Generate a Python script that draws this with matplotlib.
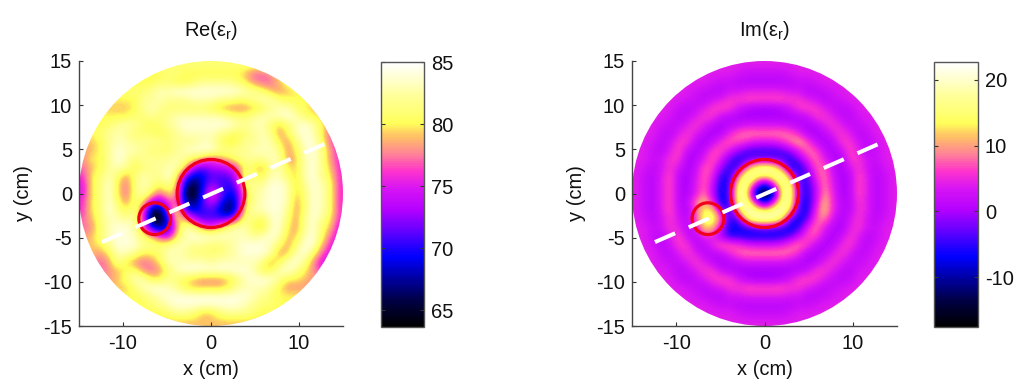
import numpy as np
import matplotlib
matplotlib.use("Agg")
import matplotlib.pyplot as plt
from matplotlib.colors import LinearSegmentedColormap
from matplotlib.patches import Circle

plt.rcParams['font.family'] = ['Liberation Sans', 'DejaVu Sans']
plt.rcParams['mathtext.fontset'] = 'custom'
plt.rcParams['mathtext.rm'] = 'Liberation Sans'
plt.rcParams['axes.unicode_minus'] = False

grid_x = list(range(-15, 16))
re_rows = [
[81]*31,
[80,80,80,80,80,80,80,80,80,80,81,81,80,80,80,80,80,80,80,79,77,77,78,80,80,80,80,80,80,80,80],
[80,80,80,80,80,80,80,80,80,81,81,80,80,81,82,82,82,82,81,80,78,77,77,79,81,81,81,81,81,81,81],
[80,80,80,80,80,81,81,81,82,83,83,84,84,84,84,84,84,84,84,83,82,81,79,78,79,80,80,80,80,80,80],
[80,80,80,80,80,80,80,82,82,83,82,82,82,83,83,83,82,82,81,81,82,83,83,81,80,80,80,80,80,80,80],
[80,80,80,79,79,79,80,82,83,82,81,81,81,81,81,80,79,78,78,78,79,80,82,83,83,81,80,79,79,79,79],
[80,80,80,80,80,80,81,81,82,81,82,83,83,83,83,83,83,82,81,81,82,83,83,83,84,83,81,80,79,78,78],
[80,80,80,81,82,83,82,81,80,81,82,83,84,84,84,84,84,84,83,82,83,83,81,79,81,83,84,83,80,78,78],
[80,80,81,82,83,82,81,81,81,80,81,82,83,83,83,83,82,81,80,81,82,83,82,78,80,83,84,83,80,77,76],
[79,79,80,82,83,83,82,82,82,82,81,82,82,82,83,83,81,79,80,82,82,83,83,80,78,81,84,84,81,77,76],
[78,79,80,82,84,83,83,82,81,81,81,82,83,84,84,84,82,82,82,82,83,83,83,82,78,80,83,84,82,78,76],
[78,80,80,82,84,83,81,82,82,82,82,83,82,80,78,76,78,79,81,82,82,82,83,83,78,79,83,84,82,78,76],
[77,79,80,82,83,82,80,81,82,82,83,83,79,73,71,73,73,74,76,81,80,78,82,83,80,79,83,84,82,79,76],
[76,80,81,83,81,78,81,83,82,82,84,80,72,68,69,71,71,71,74,82,81,80,83,83,81,79,83,84,82,80,76],
[75,80,81,84,80,77,81,83,82,80,82,79,68,65,69,73,71,70,72,81,82,82,84,84,83,79,82,84,83,81,76],
[75,80,81,84,80,77,81,83,80,77,80,78,66,64,70,76,73,69,70,79,82,83,84,84,83,79,81,84,83,81,76],
[76,80,81,84,81,78,81,80,74,72,76,77,68,66,71,74,71,67,69,79,82,83,84,84,83,78,81,84,83,81,76],
[76,80,81,84,82,80,82,77,66,65,74,81,71,69,70,71,69,65,70,80,83,83,84,84,82,78,81,84,83,81,76],
[77,79,81,83,83,82,83,76,65,64,70,80,79,74,71,71,71,72,76,82,81,80,83,84,81,78,82,84,82,80,76],
[77,78,81,83,84,84,83,78,70,67,70,78,83,82,78,76,79,82,83,83,80,79,83,84,80,78,82,84,81,79,75],
[78,79,81,83,84,84,83,81,79,76,74,80,83,84,84,84,84,83,83,83,82,83,84,83,79,79,83,84,81,77,75],
[79,79,80,82,84,84,84,82,82,81,82,83,83,82,82,81,81,82,83,84,84,84,83,81,78,81,84,84,79,76,74],
[79,79,78,80,83,83,82,80,80,81,83,83,82,81,81,81,81,82,83,84,84,84,83,78,79,83,84,81,77,75,74],
[78,78,77,78,82,80,78,77,78,80,83,83,83,83,83,82,83,83,83,83,83,82,78,80,83,84,82,78,75,74,74],
[78,78,77,78,79,80,81,78,77,78,81,83,84,84,84,84,84,84,84,84,83,80,80,83,84,82,80,78,76,74,74],
[78,78,78,78,79,81,83,83,80,80,82,81,80,79,78,78,78,79,81,83,84,84,84,82,80,80,79,78,78,78,78],
[79,79,79,79,79,79,81,83,84,84,83,82,80,79,79,79,79,80,82,83,83,83,82,80,78,78,78,78,78,78,78],
[80,80,80,80,80,80,80,81,82,83,84,84,84,84,84,84,84,84,84,84,83,82,81,80,80,80,80,80,80,80,80],
[80,80,80,80,80,80,80,80,81,82,83,84,84,84,84,84,84,84,84,83,82,81,81,80,80,80,80,80,80,80,80],
[80,80,80,80,80,80,80,80,80,80,81,82,82,81,79,79,81,82,82,82,81,80,80,80,80,80,80,80,80,80,80],
[79]*31,
]
im_rows = [
[4]*31,
[4,4,4,4,4,4,4,4,4,4,4,4,3,2,2,2,2,2,3,4,4,4,4,4,4,4,4,4,4,4,4],
[4,4,4,4,4,4,4,4,4,3,2,2,1,1,1,1,1,1,1,2,2,3,4,4,4,4,4,4,4,4,4],
[4,4,4,4,4,4,4,3,2,1,1,3,3,4,4,4,4,4,3,3,1,1,2,3,4,4,4,4,4,4,4],
[4,4,4,4,4,4,3,2,1,3,4,6,6,7,7,7,7,7,6,6,4,3,1,2,3,4,4,4,4,4,4],
[4,4,4,4,4,2,1,2,4,6,7,6,3,1,0,0,0,1,3,6,7,6,4,2,1,2,4,4,4,4,4],
[4,4,4,4,3,1,2,4,6,6,2,1,0,0,0,0,0,0,0,1,2,6,6,4,2,1,3,4,4,4,4],
[4,4,4,3,2,2,4,6,4,1,0,1,2,3,3,3,3,3,2,1,0,1,4,6,4,2,2,3,4,4,4],
[4,4,4,2,1,4,6,4,1,0,1,5,8,9,9,9,9,9,8,5,1,0,1,4,6,4,1,2,4,4,4],
[4,4,3,1,3,6,6,1,0,2,6,8,7,5,3,3,3,5,8,11,7,2,0,1,6,6,3,1,3,4,4],
[4,4,2,1,4,7,2,0,2,7,7,3,-1,-4,-5,-5,-5,-4,-1,4,9,7,2,0,2,7,4,1,2,4,4],
[4,4,2,3,6,6,0,1,4,8,3,-3,-6,-4,-2,-2,-2,-4,-6,-2,4,9,4,1,0,6,6,3,2,4,4],
[4,3,1,3,6,3,0,2,8,6,-1,-6,-3,9,17,19,17,9,-5,-7,-1,7,8,2,0,3,6,3,1,3,4],
[4,2,1,4,7,1,0,3,8,4,-6,-5,9,20,16,14,16,20,9,-4,-4,5,9,3,0,1,7,4,1,2,4],
[4,2,1,4,7,1,0,4,8,2,-8,-3,17,16,3,-10,3,16,17,-2,-6,2,9,4,0,1,7,4,1,2,4],
[4,2,1,4,7,1,0,4,9,1,-8,-2,19,14,-12,-17,-12,14,19,-1,-6,1,10,5,0,1,7,4,1,2,4],
[4,2,1,4,7,1,1,9,11,5,-9,-3,18,17,4,-10,3,16,18,-3,-7,2,12,5,1,1,6,4,1,2,4],
[4,2,1,4,7,2,0,7,14,13,0,-6,12,21,17,15,17,21,12,-4,-7,5,12,5,1,1,6,4,1,2,4],
[4,3,1,3,6,3,1,7,16,16,7,-6,-3,14,20,21,20,14,-3,-8,-3,7,9,3,0,3,6,3,1,3,4],
[4,4,2,3,6,4,1,3,13,11,1,-7,-7,-5,-3,-2,-3,-5,-8,-5,4,9,4,1,0,4,6,3,2,4,4],
[4,4,2,1,4,7,2,1,5,4,0,-6,-5,-7,-7,-7,-7,-6,-3,2,7,7,2,0,2,6,4,1,2,4,4],
[4,4,3,1,3,6,6,1,1,5,8,8,6,4,3,3,3,4,7,9,6,2,0,1,5,6,3,1,3,4,4],
[4,4,4,2,1,4,6,4,1,1,2,5,8,9,9,9,9,9,8,5,1,0,1,4,6,4,1,2,4,4,4],
[4,4,4,3,2,2,4,6,4,1,0,1,2,3,3,3,3,3,2,1,0,1,4,6,4,2,2,3,4,4,4],
[4,4,4,4,3,1,2,4,6,6,2,1,0,0,0,0,0,0,0,1,2,6,6,4,2,1,3,4,4,4,4],
[4,4,4,4,4,2,1,2,4,6,7,6,3,1,0,0,0,1,3,6,7,6,4,2,1,2,4,4,4,4,4],
[4,4,4,4,4,4,3,2,1,3,4,6,6,7,7,7,7,7,6,6,4,3,1,2,3,4,4,4,4,4,4],
[4,4,4,4,4,4,4,3,2,1,1,3,3,4,4,4,4,4,3,3,1,1,2,3,4,4,4,4,4,4,4],
[4,4,4,4,4,4,4,4,4,3,2,2,1,1,1,1,1,1,1,2,2,3,4,4,4,4,4,4,4,4,4],
[4,4,4,4,4,4,4,4,4,4,4,4,3,2,2,2,2,2,3,4,4,4,4,4,4,4,4,4,4,4,4],
[4]*31,
]
re_limits = [63.65, 85.0]
im_limits = [-17.6, 22.7]
re_ticks = [65, 70, 75, 80, 85]
im_ticks = [-10, 0, 10, 20]
x_ticks = [-10, 0, 10]
y_ticks = [-15, -10, -5, 0, 5, 10, 15]
domain_radius = 15
large_circle = [0.0, 0.0, 3.85]
small_circle = [-6.4, -2.85, 1.8]
cut_x = [-12.4, 12.9]
cut_y = [-5.5, 5.6]
titles = [r'Re($\mathrm{ε}_{\mathrm{r}}$)', r'Im($\mathrm{ε}_{\mathrm{r}}$)']

cmap = LinearSegmentedColormap.from_list('mag', [
    (0.00, (0, 0, 0)), (0.10, (0, 0, 0.28)), (0.264, (0, 0, 1)), (0.44, (0.70, 0, 1)),
    (0.52, (0.84, 0.08, 0.96)), (0.59, (1, 0.2, 0.8)), (0.65, (1, 0.5, 0.6)),
    (0.72, (1, 0.75, 0.4)), (0.77, (1, 1, 0.35)), (0.88, (1, 1, 0.62)), (1.00, (1, 1, 1))], N=128)

W, H = 1017, 380
fig = plt.figure(figsize=(W/100, H/100), dpi=100)
panels = [
    (re_rows, re_limits, re_ticks, (79, 61, 264, 265), (381, 62, 43, 265)),
    (im_rows, im_limits, im_ticks, (632, 61, 265, 265), (934, 62, 44, 265)),
]
for k, (rows, lim, cticks, r, cr) in enumerate(panels):
    ax = fig.add_axes([r[0]/W, 1-(r[1]+r[3])/H, r[2]/W, r[3]/H])
    field = np.array(rows, dtype=float)
    im = ax.imshow(field, extent=[grid_x[0], grid_x[-1], grid_x[0], grid_x[-1]], origin='upper',
                   cmap=cmap, vmin=lim[0], vmax=lim[1], interpolation='bicubic',
                   interpolation_stage='data')
    im.set_clip_path(Circle((0, 0), domain_radius, transform=ax.transData))
    for c in (large_circle, small_circle):
        ax.add_patch(Circle((c[0], c[1]), c[2], fill=False, ec='#f0001c', lw=2.3, zorder=3))
    ax.plot(cut_x, cut_y, color='white', lw=2.9, linestyle=(0, (5.45, 3.7)),
            dash_capstyle='butt', zorder=4)
    ax.set_xlim(-15, 15); ax.set_ylim(-15, 15)
    ax.set_aspect('auto')
    ax.set_xticks(x_ticks); ax.set_yticks(y_ticks)
    ax.tick_params(direction='in', length=3, width=0.8, labelsize=14.5, color='#333333',
                   labelcolor='#111111')
    ax.tick_params(axis='x', pad=6)
    ax.tick_params(axis='y', pad=5)
    for s in ('top', 'right'):
        ax.spines[s].set_visible(False)
    for s in ('left', 'bottom'):
        ax.spines[s].set_color('#444444'); ax.spines[s].set_linewidth(1.0)
    ax.set_xlabel('x (cm)', fontsize=14.5, labelpad=5, color='#111111')
    ax.set_ylabel('y (cm)', fontsize=14.5, labelpad=7, color='#111111')
    ax.set_title(titles[k], fontsize=14.5, pad=18, color='#111111')
    cax = fig.add_axes([cr[0]/W, 1-(cr[1]+cr[3])/H, cr[2]/W, cr[3]/H])
    cb = fig.colorbar(im, cax=cax, ticks=cticks)
    cb.ax.tick_params(direction='in', length=3, width=0.8, labelsize=14.5, left=True, right=True,
                      pad=5, color='#333333', labelcolor='#111111')
    cb.outline.set_edgecolor('#555555'); cb.outline.set_linewidth(1.0)
fig.savefig('out.png', dpi=100)
